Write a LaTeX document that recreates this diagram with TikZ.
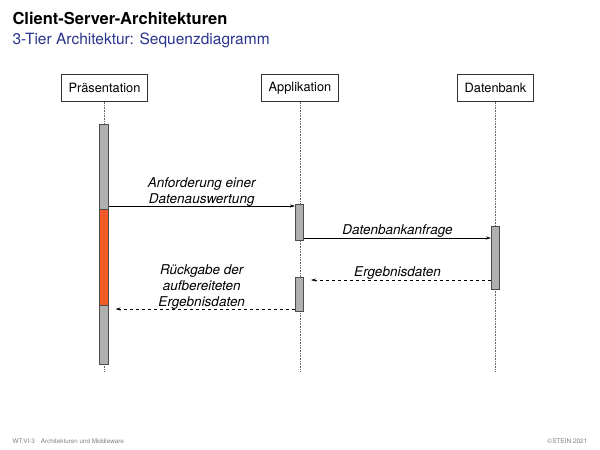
\documentclass[tikz,border=0pt]{standalone}
\usepackage{fontspec}
\setmainfont{TeX Gyre Heros}
\usepackage{xcolor}
\usetikzlibrary{arrows.meta,positioning}
\definecolor{titleblue}{RGB}{40,52,140}
\definecolor{barorange}{RGB}{241,90,36}
\definecolor{bargrey}{RGB}{176,176,176}
\tikzset{
lifebox/.style={draw=black!80,line width=0.6pt,minimum height=27pt,inner xsep=7pt,font=\fontsize{12.8}{14}\selectfont},
actbar/.style={draw=black!70,line width=0.6pt,fill=bargrey,minimum width=8.5pt,inner sep=0pt},
lifeline/.style={densely dotted,black!60,line width=0.6pt},
msg/.style={->,line width=0.6pt},
reply/.style={->,dashed,line width=0.6pt,shorten >=7pt},
msglabel/.style={align=center,font=\fontsize{13.5}{16}\selectfont\itshape}
}
\begin{document}
\begin{tikzpicture}[x=1pt,y=-1pt,>={Stealth[length=5pt,width=3pt]}]
\useasboundingbox(0,0) rectangle (600,450);
\node[anchor=west,font=\fontsize{16.5}{18}\selectfont\bfseries] (title) at (9,18) {Client-Server-Architekturen};
\node[anchor=west,font=\fontsize{15.5}{17}\selectfont,text=titleblue] (subtitle) at (9,40) {3-Tier Architektur: Sequenzdiagramm};
% lifelines
\node[lifebox] (praes) at (104.5,88) {Präsentation};
\node[lifebox] (appl) at (300,88) {Applikation};
\node[lifebox] (dbank) at (495.5,88) {Datenbank};
\coordinate (praesend) at (104.5,371);
\coordinate (applend) at (300,371);
\coordinate (dbankend) at (495.5,371);
\draw[lifeline](praes)--(praesend);
\draw[lifeline](appl)--(applend);
\draw[lifeline](dbank)--(dbankend);
% activations
\node[actbar,minimum height=240pt] (pbar) at (104,244) {};
\node[actbar,fill=barorange,minimum height=96pt] (pwait) at (104,257) {};
\node[actbar,minimum height=36pt] (abarone) at (299.5,222) {};
\node[actbar,minimum height=34pt] (abartwo) at (299.5,294) {};
\node[actbar,minimum height=63pt] (dbar) at (495.5,257.5) {};
% messages
\coordinate (req) at (pbar.east |- 0,206);
\coordinate (query) at (abarone.east |- 0,238);
\coordinate (result) at (dbar.west |- 0,280);
\coordinate (back) at (abartwo.west |- 0,309);
\draw[msg](req)--node[msglabel,above=-4pt]{Anforderung einer\\Datenauswertung}(abarone.west |- req);
\draw[msg](query)--node[msglabel,above=-3.5pt]{Datenbankanfrage}(dbar.west |- query);
\draw[reply](result)--node[msglabel,above=-3pt]{Ergebnisdaten}(abartwo.east |- result);
\draw[reply](back)--node[msglabel,above=-4pt]{Rückgabe der\\aufbereiteten\\Ergebnisdaten}(pbar.east |- back);
% footer
\node[anchor=west,font=\fontsize{6.3}{7}\selectfont,text=black!50] (footl) at (9,441) {WT:VI-3\hspace{6pt}Architekturen und Middleware};
\node[anchor=east,font=\fontsize{6.5}{7}\selectfont,text=black!50] (footr) at (591,441) {©STEIN 2021};
\end{tikzpicture}
\end{document}
